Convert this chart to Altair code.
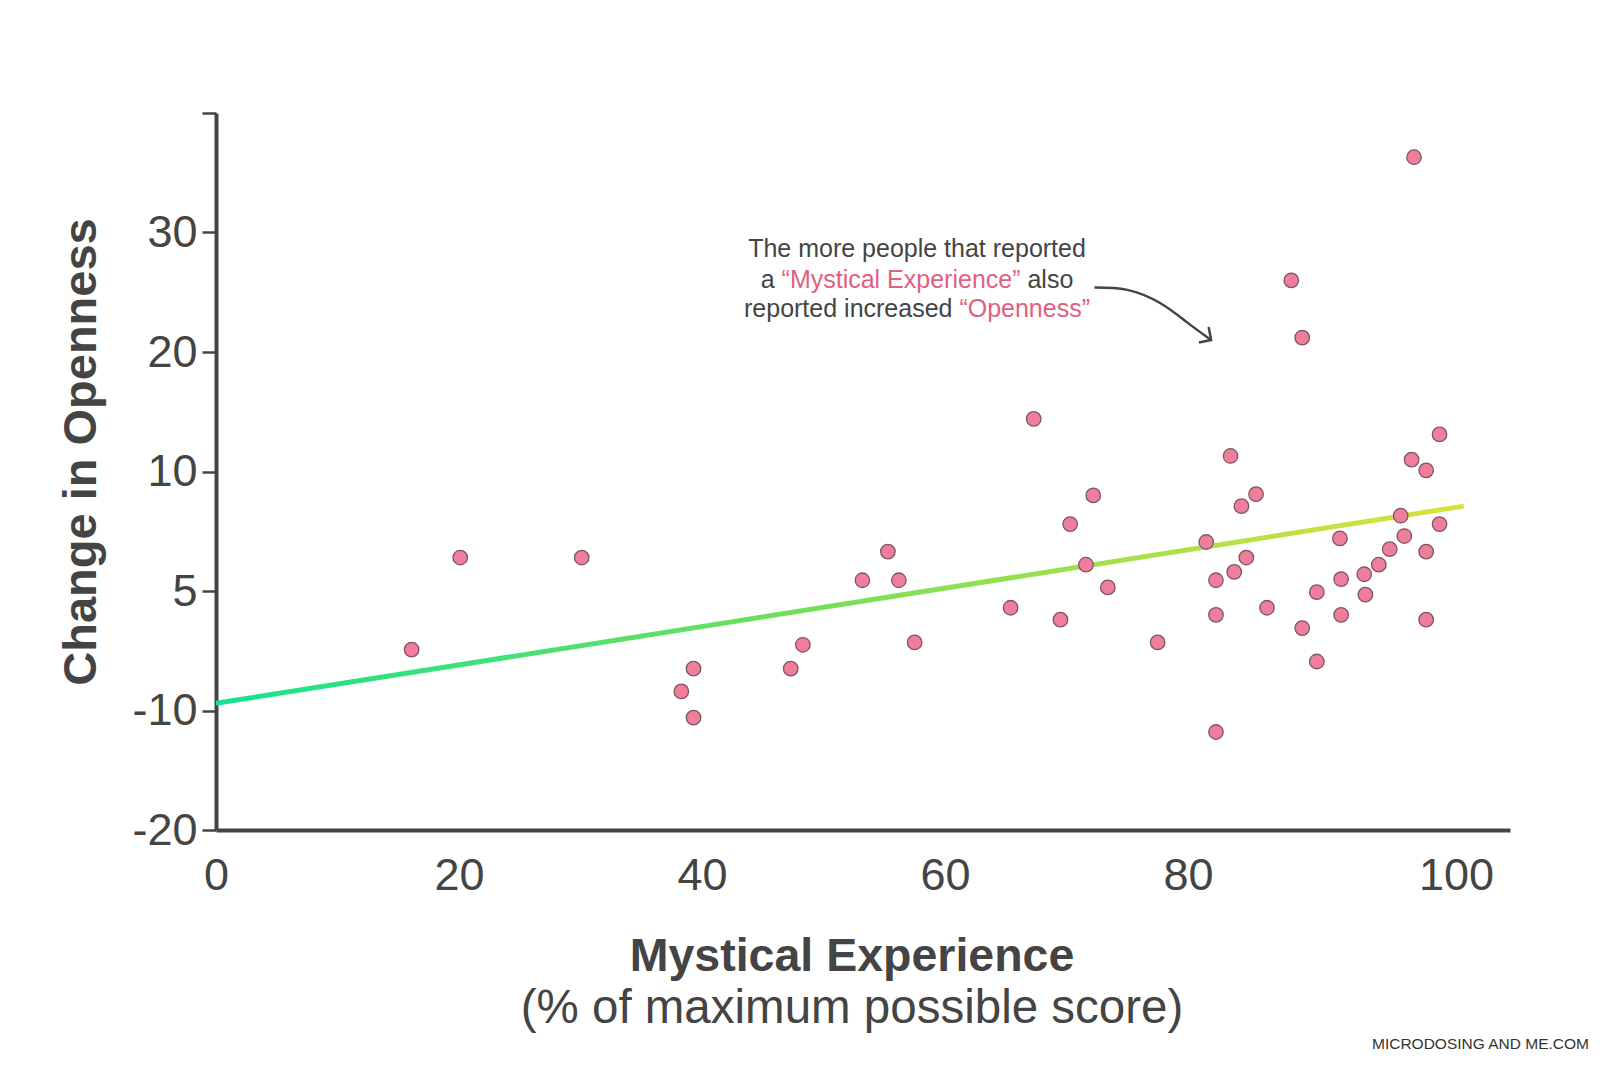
import altair as alt
import pandas as pd

# ---- data ----
mystical = [16.1, 20.1, 30.1, 38.3, 39.3, 39.3, 47.3, 48.3, 53.2, 55.3, 56.2, 57.5,
            65.4, 67.3, 69.5, 70.3, 71.6, 72.2, 73.4, 77.5, 81.5, 82.3, 82.3, 82.3,
            83.5, 83.8, 84.4, 84.8, 85.6, 86.5, 88.5, 89.4, 89.4, 90.6, 90.6, 92.5,
            92.6, 92.6, 94.5, 94.6, 95.7, 96.6, 97.5, 97.8, 98.4, 98.6, 99.6, 99.6,
            99.6, 100.7, 100.7]
openness = [-4.9, 2.8, 2.8, -8.4, -6.5, -10.6, -6.5, -4.5, 0.9, 3.3, 0.9, -4.3,
            -1.4, 14.4, -2.4, 5.6, 2.2, 8.0, 0.3, -4.3, 4.1, 0.9, -2.0, -11.8,
            11.3, 1.6, 7.1, 2.8, 8.1, -1.4, 26.0, 21.2, -3.1, -0.1, -5.9, 4.4,
            1.0, -2.0, 1.4, -0.3, 2.2, 3.5, 6.3, 4.6, 11.0, 36.3, 10.1, 3.3,
            -2.4, 13.1, 5.6]

trend_x = [0, 102.7]
trend_y = [-9.4, 7.1]

x_ticks = [0, 20, 40, 60, 80, 100]
y_ticks = [-20, -10, 0, 10, 20, 30, 40]

arrow_x = [72.3, 75.0, 77.7, 79.9, 81.9]
arrow_y = [25.4, 25.2, 24.1, 22.5, 21.0]
head_x = [81.7, 81.9, 80.9]
head_y = [22.1, 21.0, 20.8]

note_line1 = "The more people that reported"
note_line2 = ["a", "\u201cMystical Experience\u201d", "also"]
note_line3 = ["reported increased", "\u201cOpenness\u201d"]

x_title = "Mystical Experience"
x_subtitle = "(% of maximum possible score)"
y_title = "Change in Openness"
credit = "MICRODOSING AND ME.COM"

# ---- styling ----
FONT = "Liberation Sans"
DARK = "#444444"
PINK = "#e2607f"
W, H = 1294, 717
XMAX, YMIN, YMAX = 106.5, -20, 40

# Arial / Liberation Sans advance widths (per 1000 em) for placing coloured runs
AW = {"T": 611, "h": 556, "e": 556, " ": 278, "m": 833, "o": 556, "r": 333, "p": 556,
      "l": 222, "t": 278, "a": 556, "d": 556, "M": 833, "y": 500, "s": 500, "i": 222,
      "c": 500, "E": 667, "x": 500, "n": 556, "\u201c": 333, "\u201d": 333, "O": 778}
NFS = 25


def tw(s):
    return sum(AW.get(ch, 556) for ch in s) * NFS / 1000.0


NCX = 701  # centre of the note (plot px)
L1, L2, L3 = 144, 175, 204

runs = []
runs.append(dict(t=note_line1, x=NCX - tw(note_line1) / 2, y=L1, c=DARK))
full2 = " ".join(note_line2)
s2 = NCX - tw(full2) / 2
runs.append(dict(t=note_line2[0], x=s2, y=L2, c=DARK))
runs.append(dict(t=note_line2[1], x=s2 + tw(note_line2[0] + " "), y=L2, c=PINK))
runs.append(dict(t=note_line2[2], x=s2 + tw(note_line2[0] + " " + note_line2[1] + " "), y=L2, c=DARK))
full3 = " ".join(note_line3)
s3 = NCX - tw(full3) / 2
runs.append(dict(t=note_line3[0], x=s3, y=L3, c=DARK))
runs.append(dict(t=note_line3[1], x=s3 + tw(note_line3[0] + " "), y=L3, c=PINK))

xs = alt.Scale(domain=[0, XMAX], nice=False, zero=False)
ys = alt.Scale(domain=[YMIN, YMAX], nice=False, zero=False)

pts = pd.DataFrame({"x": mystical, "y": openness})
trend = pd.DataFrame({"x": trend_x, "y": trend_y})
arrow = pd.DataFrame({"x": arrow_x, "y": arrow_y, "o": range(len(arrow_x))})
head = pd.DataFrame({"x": head_x, "y": head_y, "o": range(len(head_x))})

x_axis = alt.Axis(
    values=x_ticks, title=None, ticks=False, tickSize=0, grid=False,
    labelFontSize=45, labelFont=FONT, labelColor=DARK, labelPadding=23,
    labelOffset={"condition": {"test": "datum.value === 100", "value": 25}, "value": 0},
    domainColor=DARK, domainWidth=4, labelFlush=False,
)
y_axis = alt.Axis(
    values=y_ticks, title=None, grid=False, tickSize=14, tickWidth=2.5, tickColor=DARK,
    labelFontSize=45, labelFont=FONT, labelColor=DARK, labelPadding=5,
    labelExpr="datum.value === 0 ? '5' : (datum.value === 40 ? '' : '' + datum.value)",
    domainColor=DARK, domainWidth=4, labelFlush=False,
)

base_line = alt.Chart(trend).mark_line(
    strokeWidth=5, strokeCap="butt",
    stroke=alt.Gradient(
        gradient="linear",
        stops=[alt.GradientStop(color="#16e38e", offset=0),
               alt.GradientStop(color="#6fdf5c", offset=0.45),
               alt.GradientStop(color="#a5e04a", offset=0.72),
               alt.GradientStop(color="#d9e23a", offset=1)],
        x1=0, x2=1, y1=0, y2=0,
    ),
).encode(
    x=alt.X("x:Q", scale=xs, axis=x_axis),
    y=alt.Y("y:Q", scale=ys, axis=y_axis),
)

points = alt.Chart(pts).mark_point(
    filled=True, shape="circle", size=210, fill="#ef7d9c", fillOpacity=1,
    stroke="#7d5563", strokeWidth=1.3, opacity=1,
).encode(x=alt.X("x:Q", scale=xs), y=alt.Y("y:Q", scale=ys))

arrow_curve = alt.Chart(arrow).mark_line(
    color=DARK, strokeWidth=2.5, interpolate="natural",
).encode(x=alt.X("x:Q", scale=xs), y=alt.Y("y:Q", scale=ys), order="o:O")

arrow_head = alt.Chart(head).mark_line(
    color=DARK, strokeWidth=2.5, strokeJoin="miter",
).encode(x=alt.X("x:Q", scale=xs), y=alt.Y("y:Q", scale=ys), order="o:O")

note_layers = []
for r in runs:
    note_layers.append(
        alt.Chart(pd.DataFrame({"t": [r["t"]]})).mark_text(
            font=FONT, fontSize=NFS, align="left", baseline="alphabetic", color=r["c"],
        ).encode(text="t:N", x=alt.value(r["x"]), y=alt.value(r["y"]))
    )

def label(txt, x, y, size, weight="normal", angle=0, align="center",
          baseline="alphabetic", color=DARK, font=FONT):
    kw = dict(font=font, fontSize=size, fontWeight=weight, align=align,
              baseline=baseline, color=color)
    if angle:
        kw["angle"] = angle
    return alt.Chart(pd.DataFrame({"t": [txt]})).mark_text(**kw).encode(
        text="t:N", x=alt.value(x), y=alt.value(y))

titles = [
    label(x_title, 636, 858, 46.5, weight="bold"),
    label(x_subtitle, 636, 910, 47.5),
    label(y_title, -134, 339, 47, weight="bold", angle=270, baseline="middle"),
    label(credit, 1373, 936, 15.5, align="right", color="#333333"),
]

chart = alt.layer(
    base_line, points, arrow_curve, arrow_head, *note_layers, *titles
).properties(
    width=W, height=H,
    autosize=alt.AutoSizeParams(type="none"),
    padding={"left": 208, "top": 105, "right": 82, "bottom": 229},
    background="white",
).configure_view(stroke=None)

chart.save("out.html", embed_options={"renderer": "svg", "actions": False})
